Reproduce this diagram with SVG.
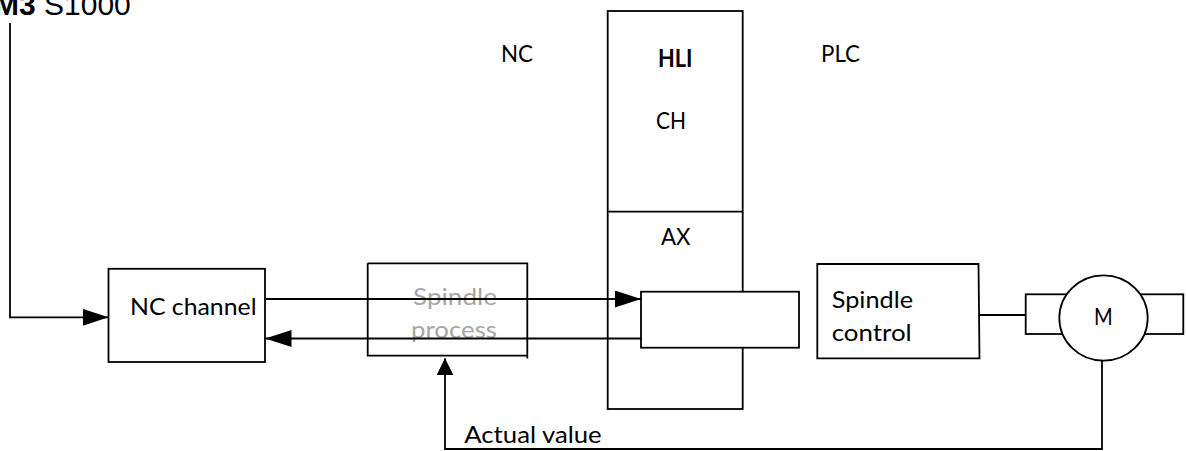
<svg xmlns="http://www.w3.org/2000/svg" width="1186" height="451" viewBox="0 0 1186 451">
<style>
.box{fill:none;stroke:#000;stroke-width:1.8}
.wbox{fill:#fff;stroke:#000;stroke-width:1.8}
.ln{fill:none;stroke:#000;stroke-width:1.8}
.t{font-family:Lato,"Open Sans",sans-serif;font-size:24px;fill:#000}
.g{fill:#a6a6a6}
.b{font-weight:bold}
</style>
<defs>
<marker id="ah" markerUnits="userSpaceOnUse" markerWidth="26" markerHeight="17" refX="26" refY="8.5" orient="auto" viewBox="0 0 26 17">
<path d="M0,0 L26,8.5 L0,17 z" fill="#000"/>
</marker>
<marker id="ahs" markerUnits="userSpaceOnUse" markerWidth="17" markerHeight="17" refX="17" refY="8.5" orient="auto" viewBox="0 0 17 17">
<path d="M0,0 L17,8.5 L0,17 z" fill="#000"/>
</marker>
</defs>

<g id="command">
<text x="-6" y="15" style="font-family:'Liberation Sans',Arial,sans-serif;font-size:30px;fill:#000"><tspan font-weight="bold">M3</tspan> S1000</text>
</g>

<g id="labels">
<text class="t" x="501" y="62" textLength="32" lengthAdjust="spacingAndGlyphs">NC</text>
<text class="t" x="821" y="62" textLength="39" lengthAdjust="spacingAndGlyphs">PLC</text>
</g>

<g id="hli">
<rect class="box" x="607.7" y="11" width="135" height="398"/>
<line class="ln" x1="607.7" y1="211.7" x2="742.7" y2="211.7"/>
<text class="t b" x="658" y="67" textLength="34.5" lengthAdjust="spacingAndGlyphs">HLI</text>
<text class="t" x="656" y="129" textLength="30" lengthAdjust="spacingAndGlyphs">CH</text>
<text class="t" x="661" y="244.5" textLength="29.5" lengthAdjust="spacingAndGlyphs">AX</text>
</g>

<g id="nc-channel">
<rect class="box" x="108.5" y="268.8" width="156.5" height="93.2"/>
<text class="t" x="130" y="315" textLength="126.5" lengthAdjust="spacingAndGlyphs">NC channel</text>
</g>

<g id="spindle-process">
<path class="ln" d="M367.7,263.3 L527.3,263.3 L527.3,358.5 M367.7,263.3 L367.7,355.7 L527.3,355.7"/>
<text class="t g" x="413" y="305" textLength="84" lengthAdjust="spacingAndGlyphs">Spindle</text>
<text class="t g" x="411" y="338" textLength="86" lengthAdjust="spacingAndGlyphs">process</text>
</g>

<g id="connectors">
<polyline class="ln" points="10,23 10,317.3 108.5,317.3" marker-end="url(#ah)"/>
<line class="ln" x1="265" y1="299" x2="641" y2="299" marker-end="url(#ah)"/>
<line class="ln" x1="641" y1="338.5" x2="265.5" y2="338.5" marker-end="url(#ah)"/>
<line class="ln" x1="979" y1="315" x2="1025.7" y2="315"/>
<polyline class="ln" points="1102,361 1102,449 445,449 445,358.3" marker-end="url(#ahs)"/>
</g>

<g id="axis-box">
<rect class="wbox" x="641" y="291.7" width="158" height="56"/>
</g>

<g id="spindle-control">
<path class="box" d="M817.3,264 L978.5,264 L979.5,358.3 L817.3,358.3 Z"/>
<text class="t" x="831.7" y="308.3" textLength="81.3" lengthAdjust="spacingAndGlyphs">Spindle</text>
<text class="t" x="831.7" y="340.7" textLength="80" lengthAdjust="spacingAndGlyphs">control</text>
</g>

<g id="motor">
<rect class="box" x="1025.7" y="294.3" width="50" height="39.7"/>
<rect class="box" x="1130" y="294.3" width="53.3" height="39.7"/>
<ellipse class="wbox" cx="1103.5" cy="318" rx="44.2" ry="42.7"/>
<text class="t" x="1094" y="325" textLength="18.7" lengthAdjust="spacingAndGlyphs">M</text>
</g>

<g id="feedback-label">
<text class="t" x="464.3" y="442.7" textLength="137.4" lengthAdjust="spacingAndGlyphs">Actual value</text>
</g>
</svg>
